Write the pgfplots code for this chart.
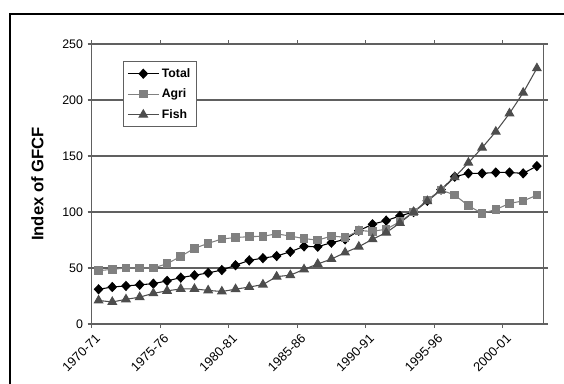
\documentclass[border=0pt]{standalone}
\usepackage{pgfplots}
\pgfplotsset{compat=1.18}
\usepackage{fontspec}
\setmainfont{Liberation Sans}
\definecolor{agri}{HTML}{808080}
\definecolor{fish}{HTML}{4D4D4D}
\definecolor{axgray}{HTML}{606060}
\begin{document}
\begin{tikzpicture}[x=0.75pt,y=0.75pt]
\useasboundingbox (0,0) rectangle (564,383);
\draw[line width=1.5pt,black] (10,-20) -- (10,369) -- (600,369);
\begin{axis}[
  at={(68.8pt,44.25pt)}, anchor=south west,
  scale only axis, width=339pt, height=210pt,
  xmin=-0.5, xmax=32.5, ymin=0, ymax=250,
  xtick={-0.5,4.5,9.5,14.5,19.5,24.5,29.5},
  xticklabels={1970-71,1975-76,1980-81,1985-86,1990-91,1995-96,2000-01},
  ytick={0,50,100,150,200,250},
  tick align=outside, major tick length=3pt,
  tick style={axgray, line width=0.8pt},
  axis line style={axgray, line width=1pt},
  ymajorgrids, grid style={axgray, line width=0.8pt},
  /pgf/number format/assume math mode=true,
  tick label style={font=\fontsize{9.3}{11}\selectfont, black},
  xticklabel style={rotate=45, anchor=north east, inner sep=1pt, yshift=-3pt, font=\fontsize{9.6}{11}\selectfont},
  ylabel={Index of GFCF},
  ylabel style={at={(axis description cs:-0.12,0.5)}, anchor=center, font=\fontsize{12.5}{14}\selectfont\bfseries},
  legend style={at={(0.069,0.939)}, anchor=north west, draw=axgray, line width=0.8pt,
    font=\fontsize{9.2}{11}\selectfont\bfseries, row sep=3.2pt, inner ysep=3pt, inner xsep=3pt},
  legend cell align=left,
  legend image code/.code={\draw[mark repeat=2,mark phase=2] plot coordinates {(0pt,0pt) (11.5pt,0pt) (23pt,0pt)};},
]
\addplot[black, line width=0.8pt, mark=diamond*, mark size=3.3pt, mark options={fill=black, xscale=1.25}] coordinates {
(0,31) (1,33) (2,34) (3,35) (4,36) (5,38.5) (6,41.4) (7,43.5) (8,45.6) (9,48.2)
(10,52.5) (11,56.8) (12,58.8) (13,60.7) (14,64.5) (15,69.3) (16,69) (17,72.6) (18,75.6) (19,83.3)
(20,89.1) (21,92.3) (22,96.5) (23,100) (24,110) (25,120) (26,131.5) (27,134.5) (28,134.5) (29,135.3)
(30,135.3) (31,134.5) (32,141)};
\addlegendentry{Total}
\addplot[agri, line width=0.8pt, mark=square*, mark size=2.8pt, mark options={fill=agri}] coordinates {
(0,47.6) (1,48.8) (2,50) (3,50) (4,50) (5,53.8) (6,60.4) (7,67.6) (8,72) (9,75.9)
(10,77.2) (11,78) (12,78.3) (13,80.5) (14,78.5) (15,76.3) (16,74.8) (17,78.6) (18,77.4) (19,83.3)
(20,82.8) (21,84.6) (22,91.4) (23,100) (24,110.7) (25,119.6) (26,115.2) (27,105.6) (28,98.8) (29,102.2)
(30,107.7) (31,109.9) (32,115)};
\addlegendentry{Agri}
\addplot[fish, line width=0.8pt, mark=triangle*, mark size=3.6pt, mark options={fill=fish}] coordinates {
(0,21) (1,19.7) (2,22) (3,24) (4,27.4) (5,29.6) (6,31.3) (7,31.3) (8,30) (9,29)
(10,31.1) (11,33) (12,35.2) (13,42.3) (14,43.6) (15,48.8) (16,53.6) (17,58) (18,63.8) (19,69)
(20,75.7) (21,81.6) (22,90.2) (23,100) (24,109.6) (25,119.6) (26,131) (27,144) (28,157.4) (29,171.7)
(30,188) (31,206.5) (32,228.3)};
\addlegendentry{Fish}
\end{axis}
\end{tikzpicture}
\end{document}
